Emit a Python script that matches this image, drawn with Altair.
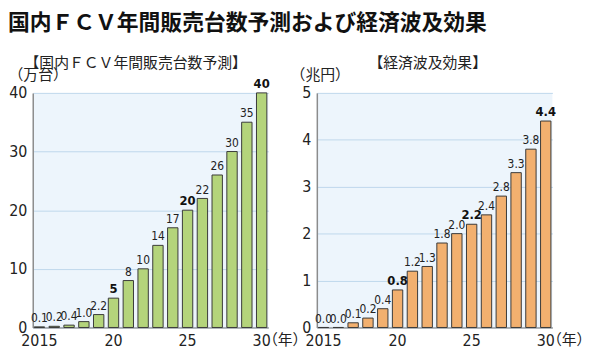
import altair as alt
import pandas as pd

# ---- data ----
years = list(range(2015, 2031))
sales = [0.1, 0.2, 0.4, 1.0, 2.2, 5, 8, 10, 14, 17, 20, 22, 26, 30, 35, 40]          # 万台
effect = [0.0, 0.0, 0.1, 0.2, 0.4, 0.8, 1.2, 1.3, 1.8, 2.0, 2.2, 2.4, 2.8, 3.3, 3.8, 4.4]  # 兆円
sales_labels = ["0.1", "0.2", "0.4", "1.0", "2.2", "5", "8", "10", "14", "17", "20", "22", "26", "30", "35", "40"]
effect_labels = ["0.0", "0.0", "0.1", "0.2", "0.4", "0.8", "1.2", "1.3", "1.8", "2.0", "2.2", "2.4", "2.8", "3.3", "3.8", "4.4"]
bold_years = [2020, 2025, 2030]
x_tick_text = {2015: "2015", 2020: "20", 2025: "25", 2030: "30"}
sales_ticks = [0, 10, 20, 30, 40]
effect_ticks = [0, 1, 2, 3, 4, 5]

main_title = "国内ＦＣＶ年間販売台数予測および経済波及効果"
left_sub = "【国内ＦＣＶ年間販売台数予測】"
right_sub = "【経済波及効果】"
left_unit = "（万台）"
right_unit = "（兆円）"
year_unit = "（年）"

NUM_FONT = "Liberation Sans Narrow, DejaVu Sans Condensed, Noto Sans CJK JP, sans-serif"
JP_FONT = "Noto Sans CJK JP"
TXT = "#222222"

label_expr = " : ".join(
    f"datum.value == {k} ? '{v}'" for k, v in x_tick_text.items()
) + " : ''"


def panel(values, labels, ticks, fill, subtitle, unit, width, sub_dx, unit_x):
    df = pd.DataFrame({
        "year": years,
        "value": values,
        "label": labels,
        "bold": [y in bold_years for y in years],
    })
    base = alt.Chart(df)
    x = alt.X(
        "year:O",
        scale=alt.Scale(paddingInner=0.3, paddingOuter=0.1),
        axis=alt.Axis(
            labelExpr=label_expr, labelAngle=0, ticks=False, grid=False,
            labelFont=NUM_FONT, labelFontSize=16, labelColor=TXT, labelPadding=5,
            domainColor="#777777", domainWidth=1,
            title=year_unit, titleFont=JP_FONT, titleFontSize=15,
            titleFontWeight="normal", titleColor=TXT,
            titleAlign="left", titleBaseline="top", titleAnchor="start",
            titleX=width - 6, titleY=5,
        ),
    )
    y = alt.Y(
        "value:Q",
        scale=alt.Scale(domain=[ticks[0], ticks[-1]], nice=False),
        axis=alt.Axis(
            values=ticks, ticks=False, grid=True, gridColor="#bfd8ec", gridWidth=1,
            labelFont=NUM_FONT, labelFontSize=16, labelColor=TXT, labelPadding=6,
            domainColor="#8c8c8c", domainWidth=1.5,
            title=unit, titleFont=JP_FONT, titleFontSize=15, titleFontWeight="normal",
            titleColor=TXT, titleAngle=0, titleAlign="left", titleBaseline="alphabetic",
            titleX=unit_x, titleY=-14,
        ),
    )
    bars = base.mark_bar(fill=fill, stroke="#3a3a3a", strokeWidth=1).encode(x=x, y=y)
    txt_normal = base.transform_filter("!datum.bold").mark_text(
        baseline="bottom", dy=-2, font=NUM_FONT, fontSize=12, color=TXT
    ).encode(x=x, y=y, text="label:N")
    txt_bold = base.transform_filter("datum.bold").mark_text(
        baseline="bottom", dy=-2, font=NUM_FONT, fontSize=13, fontWeight="bold", color="#111111"
    ).encode(x=x, y=y, text="label:N")
    return alt.layer(bars, txt_normal, txt_bold).properties(
        width=width, height=237,
        title=alt.TitleParams(
            subtitle, font=JP_FONT, fontSize=15, fontWeight="normal", color=TXT,
            anchor="middle", dx=sub_dx, offset=-4,
        ),
    )


left = panel(sales, sales_labels, sales_ticks, "#b4d47b", left_sub, left_unit, 238, -15, -25)
right = panel(effect, effect_labels, effect_ticks, "#f2b06f", right_sub, right_unit, 238, -7, -27)

chart = alt.hconcat(left, right, spacing=49, bounds="flush").properties(
    title=alt.TitleParams(
        main_title, font=JP_FONT, fontSize=22, fontWeight="bold", color="#111111",
        anchor="start", offset=22,
    ),
    padding={"left": 0, "top": 2, "right": 0, "bottom": 0},
).configure_view(
    stroke=None, fill="#edf5fc"
)

chart.save("out.html", embed_options={"renderer": "svg", "actions": False})
